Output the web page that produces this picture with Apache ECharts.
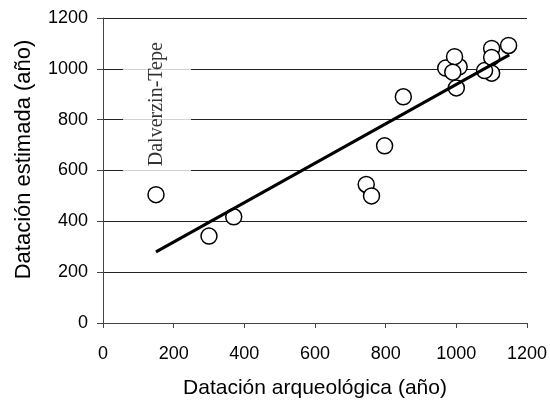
<!DOCTYPE html>
<html>
<head>
<meta charset="utf-8">
<script src="https://cdn.jsdelivr.net/npm/echarts@6/dist/echarts.min.js"></script>
<style>
  html, body { margin: 0; padding: 0; background: #fff; }
  #chart { width: 550px; height: 404px; }
</style>
</head>
<body>
<div id="chart"></div>
<script>
// archaeological date (x) vs estimated date (y)
var archDates = [150, 300, 370, 745, 760, 797, 850, 970, 1008, 995, 990, 1000, 1100, 1080, 1100, 1100, 1148];
var estDates  = [505, 342, 418, 545, 500, 697, 890, 1003, 1008, 1048, 987, 925, 983, 993, 1080, 1045, 1092];
// regression line end points
var trendX = [150, 1150];
var trendY = [280, 1055];
var axisTicks = [0, 200, 400, 600, 800, 1000, 1200];
var noteText = 'Dalverzin-Tepe';
var notePos = [153, 861];

var points = [];
for (var i = 0; i < archDates.length; i++) {
    points.push([archDates[i], estDates[i]]);
}
var trend = [];
for (var j = 0; j < trendX.length; j++) {
    trend.push([trendX[j], trendY[j]]);
}

var font = 'Liberation Sans, Arial, sans-serif';
var plain = function (v) { return String(v); };

var option = {
    animation: false,
    grid: { left: 103, right: 23, top: 18, bottom: 77.5 },
    xAxis: {
        type: 'value',
        min: axisTicks[0],
        max: axisTicks[axisTicks.length - 1],
        interval: 200,
        name: 'Datación arqueológica (año)',
        nameLocation: 'middle',
        nameGap: 55,
        nameTextStyle: { fontFamily: font, fontSize: 21, color: '#000' },
        axisLine: { show: true, lineStyle: { color: '#444', width: 1 } },
        axisTick: { show: true, length: 5, lineStyle: { color: '#444' } },
        axisLabel: { fontFamily: font, fontSize: 18, color: '#000', margin: 22, formatter: plain },
        splitLine: { show: false }
    },
    yAxis: {
        type: 'value',
        min: axisTicks[0],
        max: axisTicks[axisTicks.length - 1],
        interval: 200,
        name: 'Datación estimada (año)',
        nameLocation: 'middle',
        nameGap: 68,
        nameTextStyle: { fontFamily: font, fontSize: 22, color: '#000', padding: [0, 0, 0, 22] },
        axisLine: { show: true, lineStyle: { color: '#444', width: 1 } },
        axisTick: { show: true, length: 6, lineStyle: { color: '#444' } },
        axisLabel: { fontFamily: font, fontSize: 18, color: '#000', margin: 15, formatter: plain },
        splitLine: { show: true, lineStyle: { color: '#222', width: 1 } }
    },
    series: [
        {
            // site label with white box that hides the grid lines
            type: 'scatter',
            symbolSize: 0,
            silent: true,
            z: 1,
            data: [notePos],
            label: {
                show: true,
                position: 'inside',
                formatter: noteText,
                rotate: 90,
                fontFamily: 'Liberation Serif, Times New Roman, serif',
                fontSize: 20,
                color: '#000',
                backgroundColor: '#fff',
                padding: [22, 12, 26, 12]
            }
        },
        {
            type: 'scatter',
            symbol: 'circle',
            symbolSize: 16,
            z: 2,
            itemStyle: { color: '#fff', borderColor: '#000', borderWidth: 1.5, opacity: 1 },
            data: points
        },
        {
            type: 'line',
            showSymbol: false,
            z: 3,
            lineStyle: { color: '#000', width: 3 },
            data: trend
        }
    ]
};

var chart = echarts.init(document.getElementById('chart'));
chart.setOption(option);
</script>
</body>
</html>
